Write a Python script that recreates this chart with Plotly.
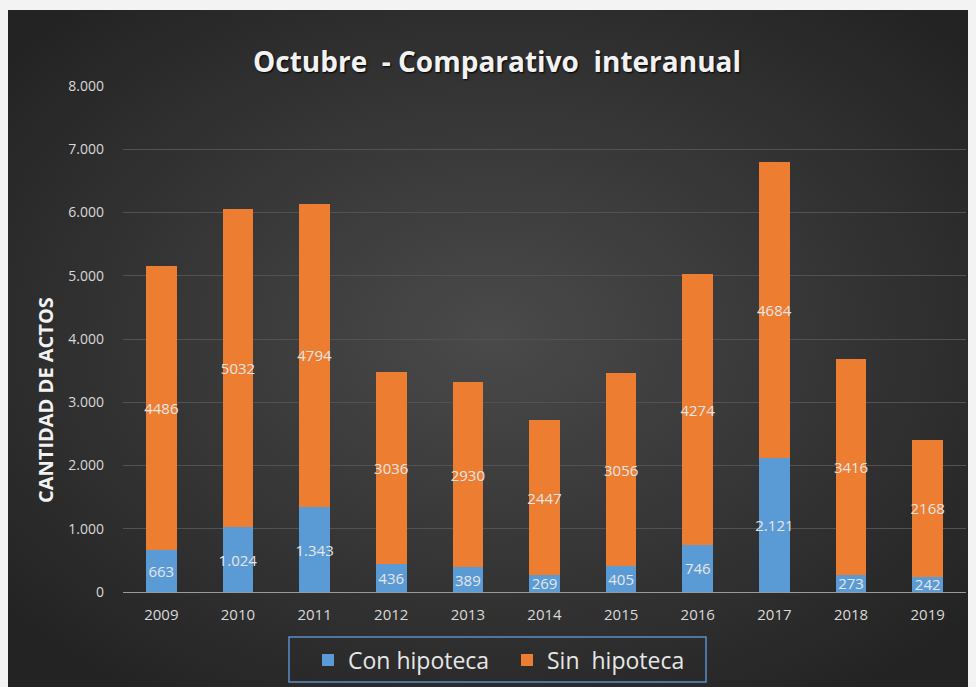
import base64
import plotly.graph_objects as go

years = ["2009", "2010", "2011", "2012", "2013", "2014",
         "2015", "2016", "2017", "2018", "2019"]
con_hipoteca = [663, 1024, 1343, 436, 389, 269, 405, 746, 2121, 273, 242]
sin_hipoteca = [4486, 5032, 4794, 3036, 2930, 2447, 3056, 4274, 4684, 3416, 2168]
y_ticks = [0, 1000, 2000, 3000, 4000, 5000, 6000, 7000, 8000]

# page body keeps its 8px margin, so the figure is 8px smaller each way
W, H = 968, 679
ml, mr, mt, mb = 115, 10, 78, 95
pw, ph = W - ml - mr, H - mt - mb


def fmt(v):
    # Excel style: blue labels use "." as thousands separator, orange ones don't
    return f"{v:,}".replace(",", ".")


def px_x(x):
    return (x - ml) / pw


def px_y(y):
    return (ph - (y - mt)) / ph


# radial gradient background as an svg image
svg = """<svg xmlns='http://www.w3.org/2000/svg' width='968' height='677'>
<defs><radialGradient id='g' cx='50%' cy='48%' r='65%'>
<stop offset='0%' stop-color='#4a4a4a'/>
<stop offset='100%' stop-color='#232323'/>
</radialGradient></defs>
<rect width='968' height='677' fill='url(#g)'/></svg>"""
bg_src = "data:image/svg+xml;base64," + base64.b64encode(svg.encode()).decode()

label_font = dict(family="Open Sans", size=15, color="#e6e6e6")
tick_font = dict(family="Open Sans", size=14, color="#d9d9d9")

fig = go.Figure()
fig.add_trace(go.Bar(
    x=years, y=con_hipoteca, name="Con hipoteca",
    marker=dict(color="#5b9bd5", line=dict(width=0)),
    text=[fmt(v) for v in con_hipoteca], textposition="inside",
    insidetextanchor="middle", textangle=0, constraintext="none",
    textfont=label_font, hoverinfo="x+y",
))
fig.add_trace(go.Bar(
    x=years, y=sin_hipoteca, name="Sin  hipoteca",
    marker=dict(color="#ed7d31", line=dict(width=0)),
    text=[str(v) for v in sin_hipoteca], textposition="inside",
    insidetextanchor="middle", textangle=0, constraintext="none",
    textfont=label_font, hoverinfo="x+y",
))

fig.update_layout(
    width=W, height=H,
    margin=dict(l=ml, r=mr, t=mt, b=mb, autoexpand=False),
    barmode="stack", bargap=0.6,
    paper_bgcolor="#f3f3f3", plot_bgcolor="rgba(0,0,0,0)",
    separators=",.",
    images=[dict(
        source=bg_src, xref="paper", yref="paper",
        x=-ml / pw, y=(mt + ph - 2) / ph,
        sizex=W / pw, sizey=(H - 2) / ph,
        xanchor="left", yanchor="top", sizing="stretch", layer="below",
    )],
    title=dict(
        text="Octubre  - Comparativo  interanual",
        x=px_x(489), xref="paper", xanchor="center",
        y=1 - 54 / H, yanchor="middle",
        font=dict(family="Open Sans", size=28, color="#f2f2f2",
                  weight="bold", shadow="1px 1px 2px #000"),
    ),
    xaxis=dict(
        showgrid=False, showline=True, linecolor="#9a9a9a", linewidth=1,
        ticks="", ticklabelstandoff=9,
        tickfont=dict(family="Open Sans", size=15, color="#d9d9d9"),
    ),
    yaxis=dict(
        range=[0, 8000], tickvals=y_ticks, tickformat=",d",
        showgrid=True, gridcolor="#525252", gridwidth=1,
        zeroline=False, showline=False, ticks="", ticklabelstandoff=18,
        tickfont=tick_font,
    ),
    # axis title sits lower than the axis centre, so it's an annotation
    annotations=[dict(
        text="<b>CANTIDAD DE ACTOS</b>", textangle=-90,
        xref="paper", yref="paper", x=px_x(37), y=px_y(392),
        xanchor="center", yanchor="middle", showarrow=False,
        font=dict(family="Open Sans", size=20, color="#f2f2f2"),
    )],
    # legend frame drawn as a shape so it can have Excel's padding
    shapes=[dict(
        type="rect", xref="paper", yref="paper",
        x0=px_x(281), x1=px_x(698), y0=px_y(629), y1=px_y(674),
        line=dict(color="#5b8fc7", width=1.5), fillcolor="rgba(0,0,0,0)",
    )],
    legend=dict(
        orientation="h", traceorder="normal",
        x=px_x(300), xanchor="left",
        y=px_y(652), yanchor="middle",
        bgcolor="rgba(0,0,0,0)", borderwidth=0,
        font=dict(family="Open Sans", size=23, color="#e6e6e6"),
        entrywidth=154, itemsizing="constant",
    ),
    showlegend=True,
)

fig.write_html("out.html", post_script="document.body.style.background='#f3f3f3';")
